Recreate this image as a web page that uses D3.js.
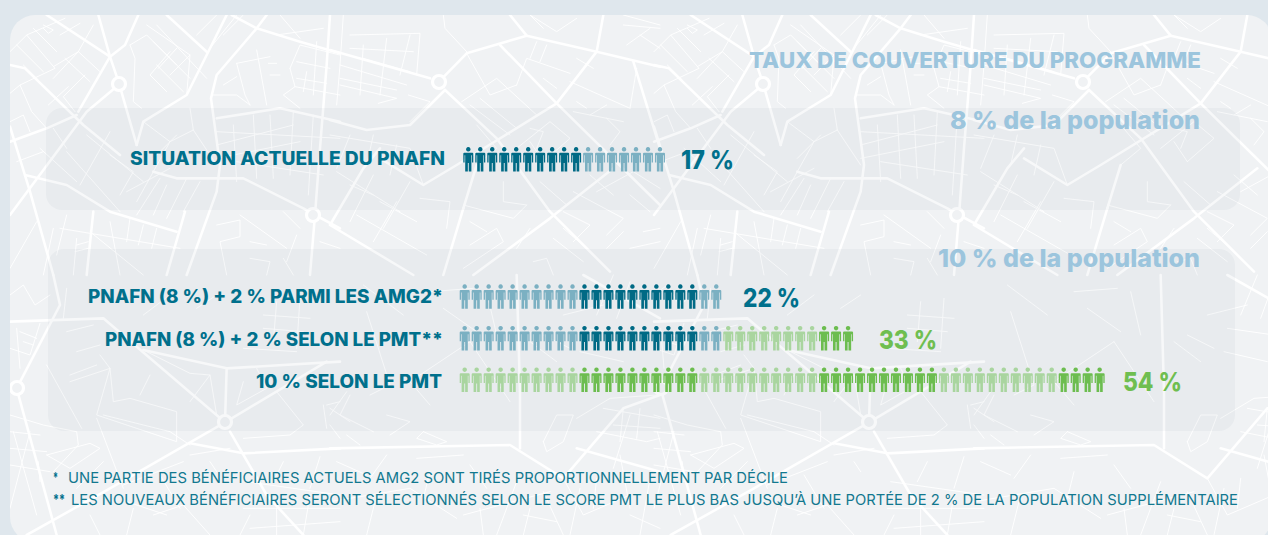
<!DOCTYPE html>
<html lang="fr"><head><meta charset="utf-8">
<script src="https://cdn.jsdelivr.net/npm/d3@7/dist/d3.min.js"></script>
<style>html,body{margin:0;padding:0;background:#dfe7ed;overflow:hidden}svg{display:block}text{font-family:Inter,"Open Sans",sans-serif}</style>
</head><body><div id="chart"></div>
<script>
// ---------- data ----------
const categories = ["SITUATION ACTUELLE DU PNAFN","PNAFN (8 %) + 2 % PARMI LES AMG2*","PNAFN (8 %) + 2 % SELON LE PMT**","10 % SELON LE PMT"];
const values = [17,22,33,54];
const valueLabels = ["17 %","22 %","33 %","54 %"];
const segCounts = [[10,7],[10,10,2],[10,10,2,8,3],[10,10,10,10,10,4]];
const segKinds  = [["td","tl"],["tl","td","tl"],["tl","td","tl","gl","gd"],["gl","gd","gl","gd","gl","gd"]];
const title = "TAUX DE COUVERTURE DU PROGRAMME";
const groupLabels = ["8 % de la population","10 % de la population"];
const footnotes = [["*","UNE PARTIE DES BÉNÉFICIAIRES ACTUELS AMG2 SONT TIRÉS PROPORTIONNELLEMENT PAR DÉCILE"],
                   ["**","LES NOUVEAUX BÉNÉFICIAIRES SERONT SÉLECTIONNÉS SELON LE SCORE PMT LE PLUS BAS JUSQU’À UNE PORTÉE DE 2 % DE LA POPULATION SUPPLÉMENTAIRE"]];
// ---------- styles / layout ----------
const W=1268,H=535;
const colors={td:"#006a85",tl:"#7bb0c2",gd:"#6cbd4f",gl:"#a9d59f"};
const teal="#00708c", pale="#9cc5dd", green="#6fbe50";
const rowSlot=[0,3.3,4.3,5.3], rowShift=[3.6,0,0,0];
const labelRight=[445,443,443,442], labelWidth=[315,355,338,186];
const labelBase=[164.5,303,346,388];
const valueX=[681,743,879,1123], valueW=[53,57,58,59], valueBase=[169,307,349,391];
const valueColor=[teal,teal,green,green];

// street network, traced in crop pixels (3x) of four tile quadrants
const quad=[[10,15],[330,15],[10,275],[330,275]];
const major=[
 [0,[[265,0],[300,125],[328,208],[380,390]]],
 [0,[[110,0],[300,125]]],
 [0,[[385,0],[345,90],[300,125],[205,290]]],
 [0,[[328,208],[230,290],[0,600]]],
 [0,[[0,150],[45,160],[220,330],[330,420]]],
 [0,[[470,0],[590,110]]],
 [0,[[650,0],[530,240],[400,320],[380,390]]],
 [0,[[770,0],[740,40],[620,180],[603,250],[630,450],[620,530],[530,780]]],
 [0,[[665,0],[740,40],[870,80],[990,115]]],
 [0,[[0,335],[60,530],[130,780]]],
 [0,[[0,380],[110,340],[200,300]]],
 [0,[[45,480],[170,510],[300,590],[500,650]]],
 [0,[[430,470],[500,490],[700,490],[880,580],[915,600]]],
 [0,[[915,600],[900,780]]],
 [0,[[915,600],[990,640]]],
 [0,[[960,0],[950,150],[930,400],[915,600]]],
 [0,[[250,590],[230,780]]],
 [0,[[525,590],[470,780]]],
 [0,[[620,310],[810,280],[990,320]]],
 [1,[[0,105],[300,190]]],
 [1,[[327,200],[410,115],[590,62],[800,110],[990,155]]],
 [1,[[540,0],[590,62]]],
 [1,[[820,0],[800,110],[680,265],[640,290],[380,450],[280,510],[150,430]]],
 [1,[[345,225],[500,370],[660,590],[840,770]]],
 [1,[[510,90],[680,265],[990,570]]],
 [1,[[345,225],[240,330],[110,345],[0,315]]],
 [1,[[0,630],[250,780]]],
 [1,[[0,630],[100,460],[150,400]]],
 [1,[[910,140],[990,400]]],
 [1,[[850,460],[660,610],[430,780]]],
 [1,[[400,580],[340,780]]],
 [1,[[400,580],[440,450]]],
 [2,[[20,340],[150,90],[130,0]]],
 [2,[[20,340],[140,780]]],
 [2,[[0,140],[280,130],[645,442]]],
 [2,[[645,442],[650,280]]],
 [2,[[400,225],[650,280],[990,260]]],
 [2,[[645,442],[950,260]]],
 [2,[[645,442],[300,640],[50,780]]],
 [2,[[540,505],[700,535],[990,520]]],
 [2,[[660,470],[770,660],[880,780]]],
 [3,[[0,520],[540,510],[700,610],[880,400],[990,360]]],
 [3,[[570,350],[570,520]]],
 [3,[[740,520],[990,590]]],
 [3,[[560,0],[570,350]]],
 [3,[[990,130],[760,0]]]
];
const minor=[
 [0,[[0,110],[50,60],[135,160],[30,210],[65,290],[110,340]]],
 [0,[[50,60],[165,10]]],
 [0,[[130,155],[205,110],[270,170]]],
 [0,[[205,110],[130,190]]],
 [0,[[225,180],[160,245],[195,290]]],
 [0,[[250,30],[205,110]]],
 [0,[[100,30],[130,45],[115,55],[100,40]]],
 [0,[[30,210],[0,235]]],
 [0,[[0,320],[40,300],[60,350]]],
 [0,[[360,90],[375,130],[370,260],[395,280]]],
 [0,[[410,30],[540,120],[530,240]]],
 [0,[[360,90],[410,60],[540,190]]],
 [0,[[440,30],[590,190]]],
 [0,[[480,110],[420,180],[470,230]]],
 [0,[[610,240],[680,240],[720,270]]],
 [0,[[680,145],[780,125]]],
 [0,[[740,105],[770,270]]],
 [0,[[840,160],[870,90],[990,120]]],
 [0,[[840,160],[855,215],[820,240],[870,280]]],
 [0,[[855,215],[990,240]]],
 [0,[[920,80],[910,240]]],
 [0,[[810,0],[870,70]]],
 [0,[[640,210],[680,185]]],
 [0,[[680,145],[705,240],[720,270]]],
 [0,[[620,350],[990,370]]],
 [0,[[670,330],[680,500]]],
 [0,[[730,300],[740,490]]],
 [0,[[850,290],[840,480]]],
 [0,[[400,320],[480,380],[380,560]]],
 [0,[[300,350],[210,510]]],
 [0,[[230,360],[400,500]]],
 [0,[[480,380],[550,345],[540,280]]],
 [0,[[550,345],[620,450]]],
 [0,[[450,490],[380,600]]],
 [0,[[530,490],[470,610]]],
 [0,[[170,410],[330,590]]],
 [0,[[150,640],[510,700]]],
 [0,[[240,650],[400,780]]],
 [0,[[620,630],[690,615],[690,665],[630,680],[650,780]]],
 [0,[[690,600],[830,700]]],
 [0,[[820,590],[870,640]]],
 [0,[[200,670],[190,780]]],
 [0,[[300,620],[330,780]]],
 [0,[[130,640],[100,780]]],
 // finer blocks
 [0,[[20,90],[100,170]]],[0,[[40,150],[85,195]]],[0,[[70,40],[140,110]]],
 [0,[[165,130],[240,200]]],[0,[[150,60],[210,25]]],[0,[[175,215],[115,270]]],
 [0,[[440,150],[520,230]]],[0,[[430,80],[500,150]]],[0,[[500,100],[445,160]]],[0,[[540,120],[480,180]]],
 [0,[[560,60],[620,0]]],[0,[[600,100],[680,0]]],[0,[[640,60],[700,0]]],[0,[[860,140],[960,160]]],[0,[[860,190],[950,205]]],
 [0,[[800,60],[940,40]]],[0,[[890,170],[880,230]]],[0,[[780,180],[810,180]]],[0,[[775,145],[800,145]]],
 [0,[[620,390],[850,330]]],[0,[[620,430],[870,380]]],[0,[[680,440],[940,480]]],[0,[[780,300],[790,490]]],[0,[[910,300],[895,540]]],
 [0,[[300,420],[370,470],[330,540]]],[0,[[350,530],[480,460]]],[0,[[430,430],[500,360]]],[0,[[570,500],[520,590]]],[0,[[470,510],[430,600]]],
 [0,[[90,400],[200,500]]],[0,[[130,340],[170,400]]],[0,[[20,440],[100,410]]],[0,[[80,620],[0,760]]],[0,[[170,600],[140,720]]],
 [0,[[360,610],[350,680]]],[0,[[400,630],[385,690]]],[0,[[440,640],[425,700]]],[0,[[200,690],[235,680]]],[0,[[195,710],[235,700]]],
 [0,[[720,680],[770,690]]],[0,[[720,730],[780,740],[770,780]]],[0,[[930,680],[990,700]]],[0,[[820,730],[850,780]]],[0,[[860,660],[830,740]]],
 [1,[[40,0],[30,150],[20,270]]],
 [1,[[60,60],[270,55],[260,180]]],
 [1,[[30,150],[230,210]]],
 [1,[[30,210],[200,250],[145,265]]],
 [1,[[240,60],[210,180]]],
 [1,[[170,70],[150,240]]],
 [1,[[100,90],[90,240]]],
 [1,[[235,240],[300,260],[240,320]]],
 [1,[[340,0],[345,40],[410,110]]],
 [1,[[410,115],[480,240],[560,210]]],
 [1,[[560,210],[590,130],[720,175]]],
 [1,[[395,260],[500,190],[620,300]]],
 [1,[[720,200],[900,280]]],
 [1,[[920,160],[900,280]]],
 [1,[[880,30],[990,40]]],
 [1,[[600,0],[680,50],[740,10]]],
 [1,[[0,360],[240,400],[280,510]]],
 [1,[[60,360],[20,460]]],
 [1,[[20,470],[210,590]]],
 [1,[[130,480],[60,620]]],
 [1,[[240,500],[160,640]]],
 [1,[[270,550],[360,560],[350,640]]],
 [1,[[520,500],[520,560],[590,570]]],
 [1,[[400,570],[550,610],[590,570]]],
 [1,[[730,530],[880,610],[830,660]]],
 [1,[[800,530],[910,470],[990,520]]],
 [1,[[700,590],[780,630],[730,680]]],
 [1,[[80,600],[290,720]]],
 [1,[[200,560],[130,680]]],
 [1,[[420,690],[500,640],[520,680],[400,760]]],
 [1,[[610,740],[650,730],[670,780]]],
 [1,[[630,500],[710,570]]],
 [1,[[560,400],[660,320],[720,370],[640,440]]],
 // finer blocks
 [1,[[30,190],[200,225]]],[1,[[100,130],[240,170]]],[1,[[60,100],[250,110]]],[1,[[420,270],[540,360]]],[1,[[450,250],[560,340]]],
 [1,[[620,80],[600,130]]],[1,[[650,90],[630,140]]],[1,[[740,130],[790,160]]],[1,[[640,190],[680,220]]],
 [1,[[730,290],[880,320]]],[1,[[740,260],[770,280]]],[1,[[780,300],[830,270]]],[1,[[830,310],[870,350],[840,390]]],
 [1,[[880,0],[990,30]]],[1,[[890,90],[960,40]]],[1,[[600,0],[640,40]]],[1,[[930,60],[990,100]]],
 [1,[[130,360],[110,450]]],[1,[[200,390],[180,480]]],[1,[[60,510],[130,540]]],[1,[[150,560],[260,620]]],
 [1,[[440,330],[500,400],[440,450]]],[1,[[600,380],[640,440]]],[1,[[600,340],[640,350],[620,400]]],
 [1,[[420,620],[470,650]]],[1,[[560,700],[600,640]]],[1,[[670,670],[760,740]]],[1,[[700,640],[770,700]]],[1,[[830,700],[880,650]]],
 [1,[[900,540],[960,590]]],[1,[[940,650],[990,640]]],[1,[[780,480],[850,540]]],[1,[[900,700],[990,680]]],
 [2,[[0,60],[40,30],[75,90],[120,60]]],
 [2,[[0,220],[60,240],[90,145]]],
 [2,[[20,160],[30,280]]],
 [2,[[170,40],[160,130]]],
 [2,[[180,320],[300,280],[270,240]]],
 [2,[[110,270],[215,460]]],
 [2,[[300,280],[260,420],[500,500],[500,410],[360,370],[310,380],[300,280]]],
 [2,[[420,300],[390,360]]],
 [2,[[400,225],[540,295],[600,300],[540,380]]],
 [2,[[600,300],[620,420]]],
 [2,[[700,320],[680,390],[770,340],[740,280]]],
 [2,[[800,350],[880,450],[840,480],[700,490]]],
 [2,[[950,390],[990,380]]],
 [2,[[940,390],[950,460]]],
 [2,[[0,420],[100,450],[200,470],[205,510],[130,590]]],
 [2,[[10,470],[80,720]]],
 [2,[[110,540],[180,580],[270,520],[240,505],[110,540]]],
 [2,[[260,430],[340,640]]],
 [2,[[540,540],[660,520]]],
 [2,[[710,620],[990,660]]],
 [2,[[430,720],[520,690],[600,780]]],
 [2,[[700,700],[990,700]]],
 [2,[[720,720],[690,780]]],
 [2,[[800,700],[800,780]]],
 [2,[[900,660],[880,780]]],
 [2,[[280,420],[480,470],[540,510]]],
 [2,[[340,630],[520,560]]],
 // finer blocks
 [2,[[30,170],[80,190]]],[2,[[40,200],[70,210]]],[2,[[170,170],[250,150]]],[2,[[200,230],[270,210]]],[2,[[180,300],[260,270]]],
 [2,[[400,120],[480,60]]],[2,[[560,100],[620,60]]],[2,[[760,120],[900,130]]],[2,[[760,160],[880,170]]],[2,[[800,80],[790,200]]],[2,[[870,70],[860,220]]],
 [2,[[700,220],[860,230]]],[2,[[0,470],[90,480]]],[2,[[0,520],[110,530]]],[2,[[0,570],[120,590]]],[2,[[60,470],[0,700]]],[2,[[85,560],[90,620]]],
 [2,[[200,640],[280,560]]],[2,[[350,680],[470,720]]],[2,[[240,720],[270,780]]],[2,[[370,700],[350,780]]],[2,[[450,600],[510,700]]],[2,[[820,560],[790,620]]],[2,[[930,545],[900,640]]],
 [2,[[720,760],[990,740]]],[2,[[600,560],[620,590]]],
 [3,[[60,360],[30,420],[130,470]]],
 [3,[[170,420],[240,440],[180,480]]],
 [3,[[50,480],[90,510]]],
 [3,[[280,470],[350,500],[320,510],[260,490],[280,470]]],
 [3,[[110,110],[180,330],[120,360]]],
 [3,[[0,420],[50,350]]],
 [3,[[300,390],[240,320],[420,200]]],
 [3,[[420,200],[540,380]]],
 [3,[[640,500],[680,420],[730,420],[700,500],[650,530],[640,500]]],
 [3,[[740,430],[840,370],[980,360]]],
 [3,[[800,470],[950,500],[990,490]]],
 [3,[[870,540],[900,700]]],
 [3,[[700,610],[760,720],[900,660]]],
 [3,[[640,650],[700,780]]],
 [3,[[400,720],[660,650]]],
 [3,[[560,620],[500,780]]],
 [3,[[0,680],[240,640],[380,730]]],
 [3,[[140,660],[110,780]]],
 [3,[[260,550],[400,540]]],
 [3,[[850,580],[900,420]]],
 // finer blocks
 [3,[[820,400],[990,430]]],[3,[[850,450],[990,460]]],[3,[[880,400],[870,500]]],[3,[[930,400],[920,490]]],[3,[[0,400],[60,440]]],[3,[[0,450],[30,490]]],
 [3,[[600,200],[680,260]]],[3,[[640,180],[720,220]]],[3,[[700,120],[820,90]]],[3,[[850,0],[800,120]]],[3,[[900,20],[860,130]]],[3,[[760,160],[900,180]]],[3,[[750,230],[880,260]]],[3,[[100,30],[220,120]]],[3,[[300,50],[430,40]]],[3,[[340,100],[440,170]]],[3,[[470,50],[500,180]]],
 [3,[[20,560],[110,600]]],[3,[[170,540],[120,610]]],[3,[[300,590],[280,670]]],[3,[[420,570],[470,640]]],[3,[[450,700],[460,780]]],[3,[[750,640],[720,780]]],[3,[[800,610],[790,700]]],[3,[[960,610],[930,780]]],[3,[[900,720],[990,760]]],[3,[[580,720],[680,740]]],[3,[[600,700],[580,780]]]
];
// icon glyph in a 10 x 24.5 box
const iconPath="M5,0a2.25,2.25 0 1,1 -0.01,0Z M1,5.7H9Q10,5.7 10,6.7V15.4H8.7V8.3H8.1V24.5H5.45V16H4.55V24.5H1.9V8.3H1.3V15.4H0V6.7Q0,5.7 1,5.7Z";

// ---------- draw ----------
const svg=d3.select("#chart").append("svg").attr("width",W).attr("height",H);
const defs=svg.append("defs");
defs.append("clipPath").attr("id","panelClip").append("rect").attr("x",10).attr("y",15).attr("width",1262).attr("height",527).attr("rx",25);
const line=d3.line();
const tile=defs.append("g").attr("id","tile").attr("fill","none").attr("stroke","#fff").attr("stroke-linejoin","round").attr("stroke-linecap","round");
const toPage=([q,pts])=>pts.map(p=>[quad[q][0]+p[0]/3,quad[q][1]+p[1]/3]);
tile.selectAll("path.mi").data(minor).join("path").attr("class","mi").attr("d",d=>line(toPage(d))).attr("stroke-width",1).attr("stroke-opacity",0.9);
tile.selectAll("path.ma").data(major).join("path").attr("class","ma").attr("d",d=>line(toPage(d))).attr("stroke-width",2.6).attr("stroke-opacity",0.95);
const rings=[[119,84],[439,82],[313,215],[17,388],[225,422]];
tile.selectAll("circle").data(rings).join("circle")
  .attr("cx",d=>d[0]).attr("cy",d=>d[1]).attr("r",6.5).attr("stroke-width",3.2).attr("fill","#f0f2f4");

svg.append("rect").attr("width",W).attr("height",H).attr("fill","#dfe7ed");
const panel=svg.append("g").attr("clip-path","url(#panelClip)");
panel.append("rect").attr("x",10).attr("y",15).attr("width",1262).attr("height",527).attr("fill","#f0f2f4");
[0,644].forEach(dx=>panel.append("use").attr("href","#tile").attr("x",dx));
const bands=[[46,108,1194,102],[48,249,1187,182]];
svg.selectAll("rect.band").data(bands).join("rect").attr("class","band")
  .attr("x",d=>d[0]).attr("y",d=>d[1]).attr("width",d=>d[2]).attr("height",d=>d[3]).attr("rx",16)
  .attr("fill","#6e7d8c").attr("fill-opacity",0.055);

const x=d3.scaleLinear().domain([0,54]).range([459.7,459.7+54*11.98]);
const y=d3.scaleLinear().domain([0,1]).range([147,188.6]);

const rows=svg.selectAll("g.row").data(categories).join("g").attr("class","row")
  .attr("transform",(d,i)=>`translate(${rowShift[i]},${y(rowSlot[i])})`);
rows.each(function(c,i){
  const kinds=[];
  segCounts[i].forEach((n,s)=>d3.range(n).forEach(()=>kinds.push(segKinds[i][s])));
  d3.select(this).selectAll("path").data(kinds.slice(0,values[i])).join("path")
    .attr("d",iconPath).attr("fill",k=>colors[k])
    .attr("transform",(k,j)=>`translate(${x(j)},0)`);
});
const fit=(sel,w)=>sel.attr("textLength",w).attr("lengthAdjust","spacingAndGlyphs");
svg.selectAll("text.cat").data(categories).join("text").attr("class","cat").text(d=>d)
  .attr("x",(d,i)=>labelRight[i]-labelWidth[i]).attr("y",(d,i)=>labelBase[i])
  .attr("textLength",(d,i)=>labelWidth[i]).attr("lengthAdjust","spacingAndGlyphs")
  .attr("font-size",18.5).attr("font-weight",800).attr("fill",teal);
svg.selectAll("text.val").data(valueLabels).join("text").attr("class","val").text(d=>d)
  .attr("x",(d,i)=>valueX[i]).attr("y",(d,i)=>valueBase[i])
  .attr("textLength",(d,i)=>valueW[i]).attr("lengthAdjust","spacingAndGlyphs")
  .attr("font-size",26).attr("font-weight",800).attr("fill",(d,i)=>valueColor[i]);
fit(svg.append("text").text(title).attr("x",749).attr("y",68).attr("font-size",22).attr("font-weight",800).attr("fill",pale),452);
const glX=[950,938],glW=[250,262],glY=[129,267];
svg.selectAll("text.gl").data(groupLabels).join("text").attr("class","gl").text(d=>d)
  .attr("x",(d,i)=>glX[i]).attr("y",(d,i)=>glY[i])
  .attr("textLength",(d,i)=>glW[i]).attr("lengthAdjust","spacingAndGlyphs")
  .attr("font-size",25).attr("font-weight",800).attr("fill",pale);
const fnX=[68,71],fnW=[720,1167],fnY=[482.5,505],starW=[5,12];
footnotes.forEach((f,i)=>{
  fit(svg.append("text").text(f[0]).attr("x",53).attr("y",fnY[i]).attr("font-size",14).attr("font-weight",700).attr("fill",teal),starW[i]);
  fit(svg.append("text").text(f[1]).attr("x",fnX[i]).attr("y",fnY[i]).attr("font-size",14.5).attr("font-weight",400).attr("fill","#12788f"),fnW[i]);
});
</script></body></html>
